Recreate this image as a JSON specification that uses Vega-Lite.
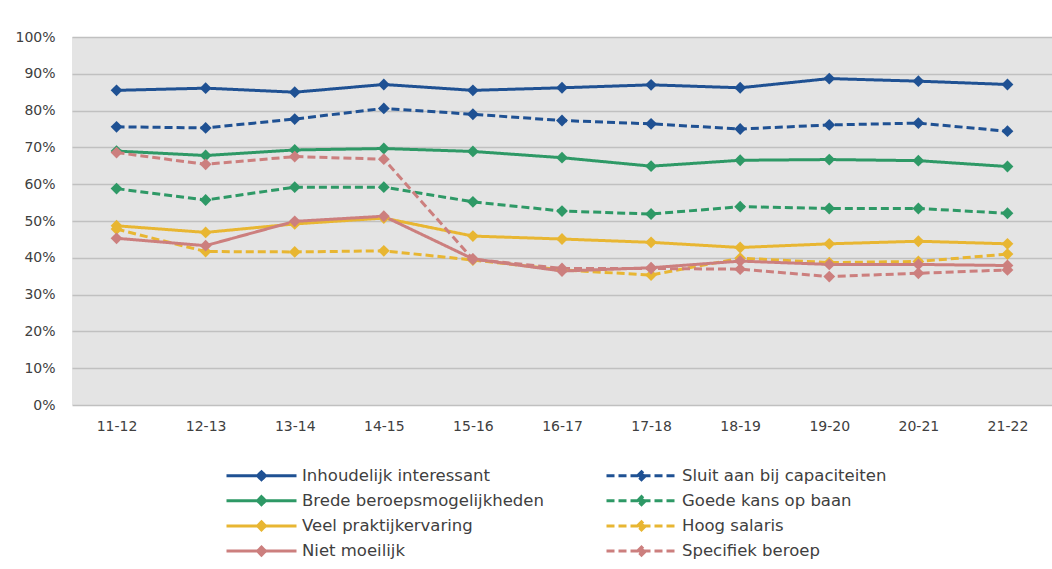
{
  "$schema": "https://vega.github.io/schema/vega-lite/v6.json",
  "width": 980,
  "height": 368,
  "autosize": {"type": "none"},
  "padding": {"left": 72, "top": 37, "right": 0, "bottom": 164},
  "background": "white",
  "config": {
    "view": {"fill": "#e4e4e4", "stroke": null},
    "font": "DejaVu Sans",
    "axis": {"labelFont": "DejaVu Sans", "labelColor": "#404040", "labelFontSize": 14, "domain": false, "ticks": false, "title": null}
  },
  "data": {"values": [
    {"jaar":"11-12","reeks":"Inhoudelijk interessant","waarde":85.5},
    {"jaar":"12-13","reeks":"Inhoudelijk interessant","waarde":86.1},
    {"jaar":"13-14","reeks":"Inhoudelijk interessant","waarde":85.0},
    {"jaar":"14-15","reeks":"Inhoudelijk interessant","waarde":87.1},
    {"jaar":"15-16","reeks":"Inhoudelijk interessant","waarde":85.5},
    {"jaar":"16-17","reeks":"Inhoudelijk interessant","waarde":86.2},
    {"jaar":"17-18","reeks":"Inhoudelijk interessant","waarde":87.0},
    {"jaar":"18-19","reeks":"Inhoudelijk interessant","waarde":86.2},
    {"jaar":"19-20","reeks":"Inhoudelijk interessant","waarde":88.7},
    {"jaar":"20-21","reeks":"Inhoudelijk interessant","waarde":88.0},
    {"jaar":"21-22","reeks":"Inhoudelijk interessant","waarde":87.1},
    {"jaar":"11-12","reeks":"Sluit aan bij capaciteiten","waarde":75.6},
    {"jaar":"12-13","reeks":"Sluit aan bij capaciteiten","waarde":75.3},
    {"jaar":"13-14","reeks":"Sluit aan bij capaciteiten","waarde":77.7},
    {"jaar":"14-15","reeks":"Sluit aan bij capaciteiten","waarde":80.6},
    {"jaar":"15-16","reeks":"Sluit aan bij capaciteiten","waarde":79.0},
    {"jaar":"16-17","reeks":"Sluit aan bij capaciteiten","waarde":77.3},
    {"jaar":"17-18","reeks":"Sluit aan bij capaciteiten","waarde":76.4},
    {"jaar":"18-19","reeks":"Sluit aan bij capaciteiten","waarde":75.0},
    {"jaar":"19-20","reeks":"Sluit aan bij capaciteiten","waarde":76.1},
    {"jaar":"20-21","reeks":"Sluit aan bij capaciteiten","waarde":76.6},
    {"jaar":"21-22","reeks":"Sluit aan bij capaciteiten","waarde":74.4},
    {"jaar":"11-12","reeks":"Brede beroepsmogelijkheden","waarde":69.0},
    {"jaar":"12-13","reeks":"Brede beroepsmogelijkheden","waarde":67.8},
    {"jaar":"13-14","reeks":"Brede beroepsmogelijkheden","waarde":69.3},
    {"jaar":"14-15","reeks":"Brede beroepsmogelijkheden","waarde":69.7},
    {"jaar":"15-16","reeks":"Brede beroepsmogelijkheden","waarde":68.9},
    {"jaar":"16-17","reeks":"Brede beroepsmogelijkheden","waarde":67.2},
    {"jaar":"17-18","reeks":"Brede beroepsmogelijkheden","waarde":64.9},
    {"jaar":"18-19","reeks":"Brede beroepsmogelijkheden","waarde":66.5},
    {"jaar":"19-20","reeks":"Brede beroepsmogelijkheden","waarde":66.7},
    {"jaar":"20-21","reeks":"Brede beroepsmogelijkheden","waarde":66.4},
    {"jaar":"21-22","reeks":"Brede beroepsmogelijkheden","waarde":64.8},
    {"jaar":"11-12","reeks":"Goede kans op baan","waarde":58.8},
    {"jaar":"12-13","reeks":"Goede kans op baan","waarde":55.7},
    {"jaar":"13-14","reeks":"Goede kans op baan","waarde":59.2},
    {"jaar":"14-15","reeks":"Goede kans op baan","waarde":59.2},
    {"jaar":"15-16","reeks":"Goede kans op baan","waarde":55.2},
    {"jaar":"16-17","reeks":"Goede kans op baan","waarde":52.7},
    {"jaar":"17-18","reeks":"Goede kans op baan","waarde":51.9},
    {"jaar":"18-19","reeks":"Goede kans op baan","waarde":53.9},
    {"jaar":"19-20","reeks":"Goede kans op baan","waarde":53.4},
    {"jaar":"20-21","reeks":"Goede kans op baan","waarde":53.4},
    {"jaar":"21-22","reeks":"Goede kans op baan","waarde":52.1},
    {"jaar":"11-12","reeks":"Veel praktijkervaring","waarde":48.7},
    {"jaar":"12-13","reeks":"Veel praktijkervaring","waarde":46.9},
    {"jaar":"13-14","reeks":"Veel praktijkervaring","waarde":49.2},
    {"jaar":"14-15","reeks":"Veel praktijkervaring","waarde":50.8},
    {"jaar":"15-16","reeks":"Veel praktijkervaring","waarde":45.9},
    {"jaar":"16-17","reeks":"Veel praktijkervaring","waarde":45.1},
    {"jaar":"17-18","reeks":"Veel praktijkervaring","waarde":44.2},
    {"jaar":"18-19","reeks":"Veel praktijkervaring","waarde":42.8},
    {"jaar":"19-20","reeks":"Veel praktijkervaring","waarde":43.8},
    {"jaar":"20-21","reeks":"Veel praktijkervaring","waarde":44.5},
    {"jaar":"21-22","reeks":"Veel praktijkervaring","waarde":43.8},
    {"jaar":"11-12","reeks":"Hoog salaris","waarde":47.8},
    {"jaar":"12-13","reeks":"Hoog salaris","waarde":41.7},
    {"jaar":"13-14","reeks":"Hoog salaris","waarde":41.6},
    {"jaar":"14-15","reeks":"Hoog salaris","waarde":41.9},
    {"jaar":"15-16","reeks":"Hoog salaris","waarde":39.4},
    {"jaar":"16-17","reeks":"Hoog salaris","waarde":36.7},
    {"jaar":"17-18","reeks":"Hoog salaris","waarde":35.3},
    {"jaar":"18-19","reeks":"Hoog salaris","waarde":39.9},
    {"jaar":"19-20","reeks":"Hoog salaris","waarde":38.7},
    {"jaar":"20-21","reeks":"Hoog salaris","waarde":39.0},
    {"jaar":"21-22","reeks":"Hoog salaris","waarde":41.0},
    {"jaar":"11-12","reeks":"Niet moeilijk","waarde":45.3},
    {"jaar":"12-13","reeks":"Niet moeilijk","waarde":43.3},
    {"jaar":"13-14","reeks":"Niet moeilijk","waarde":49.9},
    {"jaar":"14-15","reeks":"Niet moeilijk","waarde":51.3},
    {"jaar":"15-16","reeks":"Niet moeilijk","waarde":39.7},
    {"jaar":"16-17","reeks":"Niet moeilijk","waarde":36.4},
    {"jaar":"17-18","reeks":"Niet moeilijk","waarde":37.3},
    {"jaar":"18-19","reeks":"Niet moeilijk","waarde":39.1},
    {"jaar":"19-20","reeks":"Niet moeilijk","waarde":38.2},
    {"jaar":"20-21","reeks":"Niet moeilijk","waarde":38.2},
    {"jaar":"21-22","reeks":"Niet moeilijk","waarde":37.9},
    {"jaar":"11-12","reeks":"Specifiek beroep","waarde":68.6},
    {"jaar":"12-13","reeks":"Specifiek beroep","waarde":65.4},
    {"jaar":"13-14","reeks":"Specifiek beroep","waarde":67.5},
    {"jaar":"14-15","reeks":"Specifiek beroep","waarde":66.8},
    {"jaar":"15-16","reeks":"Specifiek beroep","waarde":39.6},
    {"jaar":"16-17","reeks":"Specifiek beroep","waarde":37.1},
    {"jaar":"17-18","reeks":"Specifiek beroep","waarde":37.1},
    {"jaar":"18-19","reeks":"Specifiek beroep","waarde":36.9},
    {"jaar":"19-20","reeks":"Specifiek beroep","waarde":34.9},
    {"jaar":"20-21","reeks":"Specifiek beroep","waarde":35.8},
    {"jaar":"21-22","reeks":"Specifiek beroep","waarde":36.7}
  ]},
  "encoding": {
    "x": {"field": "jaar", "type": "ordinal", "sort": null,
      "scale": {"type": "point", "padding": 0.5},
      "axis": {"labelAngle": 0, "labelPadding": 14, "grid": false, "labelFontSize": 14}},
    "y": {"field": "waarde", "type": "quantitative",
      "scale": {"domain": [0, 100], "nice": false},
      "axis": {"values": [0,10,20,30,40,50,60,70,80,90,100], "labelExpr": "datum.value + '%'", "labelPadding": 17, "grid": true, "gridColor": "#c0c0c0", "gridWidth": 1.5}},
    "color": {"field": "reeks", "type": "nominal", "sort": null,
      "scale": {
        "domain": ["Inhoudelijk interessant","Brede beroepsmogelijkheden","Veel praktijkervaring","Niet moeilijk","Sluit aan bij capaciteiten","Goede kans op baan","Hoog salaris","Specifiek beroep"],
        "range": ["#1f5193","#2e9966","#e8b632","#cc7f7e","#1f5193","#2e9966","#e8b632","#cc7f7e"]},
      "legend": {
        "title": null, "orient": "none", "legendX": 153, "legendY": 427, "columns": 2,
        "padding": 0, "rowPadding": 3.2, "columnPadding": 56, "labelLimit": 500,
        "labelFont": "DejaVu Sans", "labelFontSize": 16.5, "labelColor": "#404040",
        "symbolType": "M-3.5,0H3.5M-0.4,0L0,-0.4L0.4,0L0,0.4Z",
        "symbolSize": 400, "symbolStrokeWidth": 3, "symbolOffset": 25, "labelOffset": 29,
        "encode": {"symbols": {"update": {"fill": {"scale": "color", "field": "value"}, "stroke": {"scale": "color", "field": "value"}}}}
      }}
  },
  "layer": [
    {"mark": {"type": "line", "strokeWidth": 3},
     "encoding": {
       "strokeDash": {"field": "reeks", "type": "nominal", "sort": null,
         "scale": {
           "domain": ["Inhoudelijk interessant","Brede beroepsmogelijkheden","Veel praktijkervaring","Niet moeilijk","Sluit aan bij capaciteiten","Goede kans op baan","Hoog salaris","Specifiek beroep"],
           "range": [[1,0],[1,0],[1,0],[1,0],[8,4],[8,4],[8,4],[8,4]]}}
     }},
    {"mark": {"type": "point", "shape": "diamond", "filled": true, "size": 140, "opacity": 1}}
  ]
}
